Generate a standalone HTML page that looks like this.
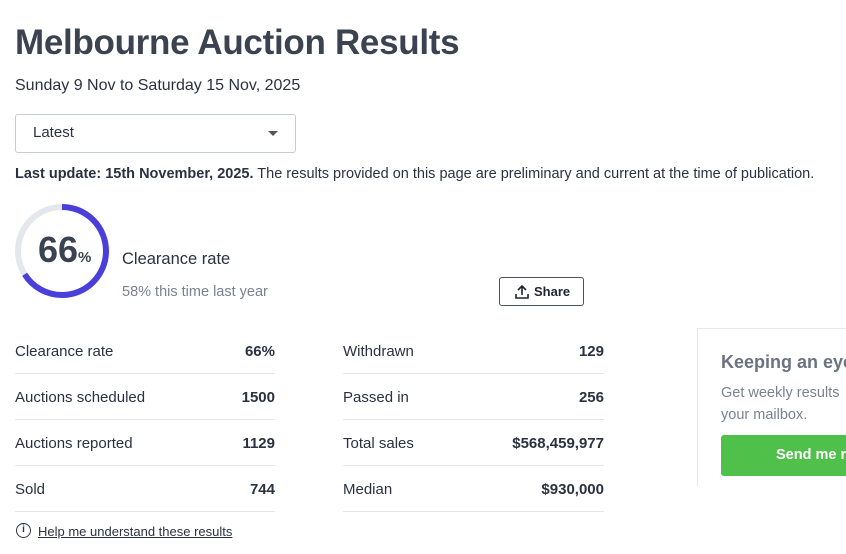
<!DOCTYPE html>
<html><head><style>
*{margin:0;padding:0;box-sizing:border-box}
body{width:846px;height:554px;overflow:hidden;background:#fff;font-family:"Liberation Sans",sans-serif;color:#2a3140;position:relative}
.a{position:absolute;white-space:nowrap}
.row{position:absolute;height:46px;border-bottom:1px solid #e4e6ea;font-size:15px;color:#2a3140}
.row span{position:absolute;top:15px}
.row b{position:absolute;right:0;top:15px;font-size:15px}
</style></head><body>
<div class="a" style="left:15px;top:23px;font-size:35px;font-weight:bold;color:#3b4250;letter-spacing:-0.3px">Melbourne Auction Results</div>
<div class="a" style="left:15px;top:77px;font-size:16px">Sunday 9 Nov to Saturday 15 Nov, 2025</div>
<div class="a" style="left:15px;top:114px;width:281px;height:39px;border:1px solid #c8ccd3;border-radius:3px"></div>
<div class="a" style="left:33px;top:124px;font-size:15px">Latest</div>
<div class="a" style="left:268px;top:131px;width:0;height:0;border-left:5px solid transparent;border-right:5px solid transparent;border-top:5px solid #555"></div>
<div class="a" style="left:15px;top:166px;font-size:14.5px"><b>Last update: 15th November, 2025.</b> The results provided on this page are preliminary and current at the time of publication.</div>
<svg class="a" style="left:0;top:190px" width="130" height="120">
<circle cx="62" cy="61" r="44" fill="none" stroke="#e4e7ec" stroke-width="6"/>
<circle cx="62" cy="61" r="44" fill="none" stroke="#4b3fdc" stroke-width="6" stroke-dasharray="182.5 400" transform="rotate(-90 62 61)"/>
</svg>
<div class="a" style="left:38px;top:229px;font-size:36px;font-weight:bold;color:#3b4250">66<span style="font-size:15px">%</span></div>
<div class="a" style="left:122px;top:250px;font-size:16.5px">Clearance rate</div>
<div class="a" style="left:122px;top:284px;font-size:14.5px;color:#7a8190">58% this time last year</div>
<div class="a" style="left:499px;top:277px;width:85px;height:29px;border:1px solid #4a5164;border-radius:3px"></div>
<svg class="a" style="left:514px;top:284px" width="16" height="16"><path d="M8 11V2M4 6l4-4 4 4M2 10v4h12v-4" fill="none" stroke="#1e2433" stroke-width="1.6"/></svg>
<div class="a" style="left:534px;top:284px;font-size:13px;font-weight:bold;color:#1e2433">Share</div>
<div class="row" style="left:15px;top:328px;width:260px"><span>Clearance rate</span><b>66%</b></div>
<div class="row" style="left:15px;top:374px;width:260px"><span>Auctions scheduled</span><b>1500</b></div>
<div class="row" style="left:15px;top:420px;width:260px"><span>Auctions reported</span><b>1129</b></div>
<div class="row" style="left:15px;top:466px;width:260px"><span>Sold</span><b>744</b></div>
<div class="row" style="left:343px;top:328px;width:261px"><span>Withdrawn</span><b>129</b></div>
<div class="row" style="left:343px;top:374px;width:261px"><span>Passed in</span><b>256</b></div>
<div class="row" style="left:343px;top:420px;width:261px"><span>Total sales</span><b>$568,459,977</b></div>
<div class="row" style="left:343px;top:466px;width:261px"><span>Median</span><b>$930,000</b></div>
<div class="a" style="left:16px;top:523px;width:15px;height:15px;border:1.5px solid #2a3140;border-radius:50%;font-size:10px;text-align:center;line-height:12px;font-weight:bold">i</div>
<div class="a" style="left:38px;top:524px;font-size:13px;text-decoration:underline">Help me understand these results</div>
<div class="a" style="left:697px;top:328px;width:160px;height:158px;border:1px solid #e6e8eb;border-right:none;border-bottom:none"></div>
<div class="a" style="left:721px;top:352px;font-size:18px;font-weight:bold;color:#6b7280">Keeping an eye</div>
<div class="a" style="left:721px;top:382px;font-size:14.5px;color:#7a8190;line-height:22px">Get weekly results<br>your mailbox.</div>
<div class="a" style="left:721px;top:435px;width:140px;height:41px;background:#4fc04a;border-radius:3px"></div>
<div class="a" style="left:776px;top:447px;font-size:14.5px;font-weight:bold;color:#fff">Send me re</div>
</body></html>
